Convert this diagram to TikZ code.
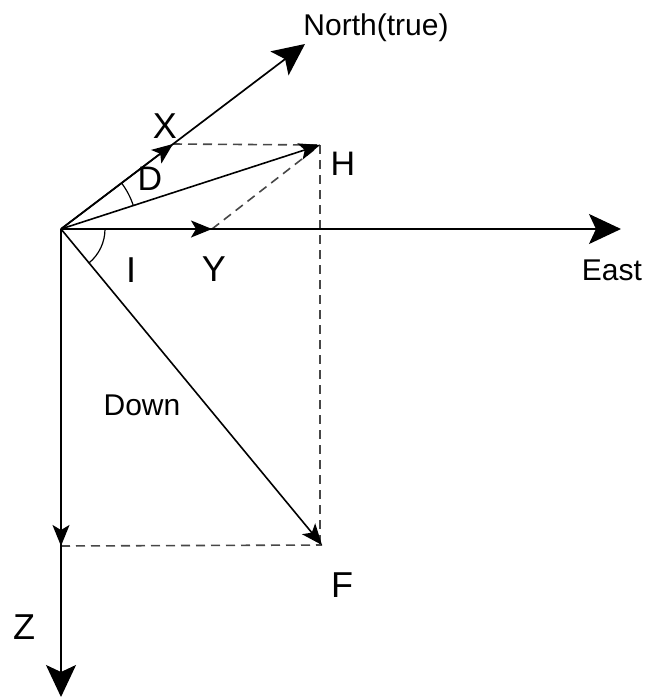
\documentclass[tikz,border=0pt]{standalone}
\usepackage{fontspec}
\setmainfont{Liberation Sans}
\usetikzlibrary{arrows.meta,calc}
\begin{document}
\begin{tikzpicture}[x=1pt,y=1pt,
  axis/.style={line width=1.7pt,-{Stealth[length=32pt,width=30pt,inset=7pt]}},
  vec/.style={line width=1.6pt,-{Stealth[length=21pt,width=17pt,inset=5pt]}},
  proj/.style={line width=1.6pt,draw=black!72,dash pattern=on 9pt off 6pt},
  ang/.style={line width=1.2pt},
  word/.style={inner sep=0pt,anchor=base,font=\fontsize{30}{36}\selectfont},
  letter/.style={inner sep=0pt,anchor=base,font=\fontsize{36}{42}\selectfont},
  sletter/.style={inner sep=0pt,anchor=base,font=\fontsize{34}{40}\selectfont}]
\useasboundingbox (0,0) rectangle (645,-697);
\coordinate (O) at (61,-229);
\coordinate (N) at (305,-44);
\coordinate (E) at (621,-229);
\coordinate (Zend) at (61,-697);
\coordinate (X) at (173,-144);
\coordinate (H) at (320,-145);
\coordinate (Y) at (212,-229);
\coordinate (F) at (322,-545);
\coordinate (Z) at (61,-546);
% dashed projections
\draw[proj] (X) -- (H);
\draw[proj] (Y) -- (H);
\draw[proj] (H) -- (320,-545) coordinate (Fc);
\draw[proj] (Z) -- (F);
% axes
\draw[axis] (O) -- (N);
\draw[axis] (O) -- (E);
\draw[axis] (O) -- (Zend);
% vectors
\draw[vec] (O) -- (X);
\draw[vec] (O) -- (H);
\draw[vec] (O) -- (Y);
\draw[vec] (O) -- (F);
\draw[vec] (O) -- (Z);
% angles
\draw[ang] ($(O)+(37.3:76)$) arc[start angle=37.3,end angle=18.2,radius=76];
\draw[ang] ($(O)+(0:44)$) arc[start angle=0,end angle=-50.4,radius=44];
% labels
\node[word] (ln) at (376,-35) {North(true)};
\node[word] (le) at (612,-280) {East};
\node[word] (ld) at (142,-415) {Down};
\node[letter] (lx) at (165,-138) {X};
\node[sletter] (lD) at (150,-190) {D};
\node[sletter] (lh) at (343,-175) {H};
\node[letter] (li) at (131,-282) {I};
\node[letter] (ly) at (214,-281) {Y};
\node[letter] (lf) at (342,-597) {F};
\node[letter] (lz) at (24,-639) {Z};
\end{tikzpicture}
\end{document}
